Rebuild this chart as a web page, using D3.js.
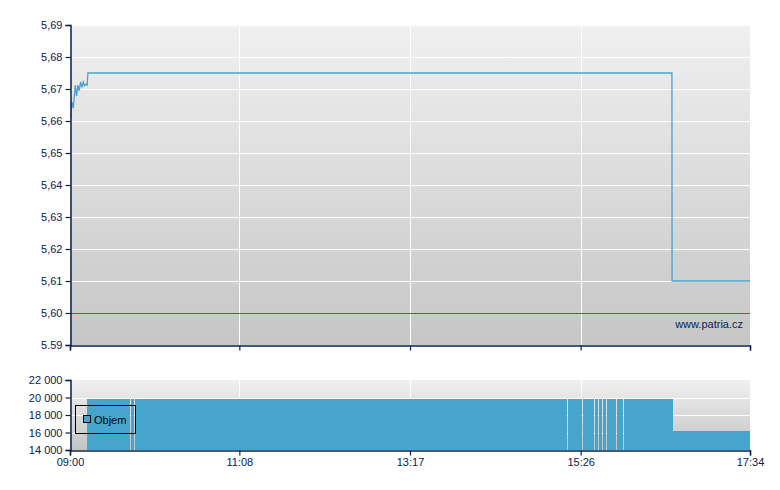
<!DOCTYPE html>
<html><head><meta charset="utf-8">
<script src="https://cdn.jsdelivr.net/npm/d3@7"></script>
<style>body{margin:0;background:#fff}svg{display:block}text{font-family:"Liberation Sans",Arial,sans-serif}</style>
</head><body><svg id="c" width="780" height="490"></svg>
<script>
// ---- data (minutes after 09:00) ----
const priceTimes = [0.5, 1.5, 2.5, 4, 5, 6, 7, 8, 9, 10, 11, 12, 13, 13.5, 455, 455.1, 514];
const priceValues = [5.661, 5.666, 5.664, 5.6712, 5.6678, 5.6712, 5.6695, 5.6722, 5.6705, 5.6722, 5.6710, 5.6716, 5.6712, 5.675, 5.675, 5.61, 5.61];
const volStart = [12.9, 46.2, 49.2, 376.3, 387.7, 396.7, 399.8, 402.8, 405.8, 413.4, 418.6, 455.6];
const volEnd   = [45.5, 48.5, 375.6, 387.0, 396.0, 399.1, 402.1, 405.1, 412.7, 417.9, 455.6, 514];
const volValues = [19800, 19800, 19800, 19800, 19800, 19800, 19800, 19800, 19800, 19800, 19800, 16200];
const priceTicks = [5.69, 5.68, 5.67, 5.66, 5.65, 5.64, 5.63, 5.62, 5.61, 5.60, 5.59];
const priceTickLabels = ["5,69","5,68","5,67","5,66","5,65","5,64","5,63","5,62","5,61","5,60","5.59"];
const volTicks = [22000, 20000, 18000, 16000, 14000];
const volTickLabels = ["22 000","20 000","18 000","16 000","14 000"];
const timeTicks = [0, 128, 257, 386, 514];
const timeTickLabels = ["09:00","11:08","13:17","15:26","17:34"];
const refLine = 5.60;
const legendLabel = "Objem";
const watermark = "www.patria.cz";

const navy = "#0b2152", blue = "#46a5cd";
const svg = d3.select("#c");
const L = 70, R = 750;
const x = d3.scaleLinear().domain([0, 514]).range([L, R]);
const y = d3.scaleLinear().domain([5.59, 5.69]).range([345, 25]);
const yv = d3.scaleLinear().domain([14000, 22000]).range([450, 380]);

const defs = svg.append("defs");
function grad(id, c1, c2){
  const g = defs.append("linearGradient").attr("id", id).attr("x1",0).attr("y1",0).attr("x2",0).attr("y2",1);
  g.append("stop").attr("offset","0%").attr("stop-color",c1);
  g.append("stop").attr("offset","100%").attr("stop-color",c2);
}
grad("gm", "#f0f0f0", "#c6c6c6");
grad("gv", "#f0f0f0", "#c4c4c4");
defs.append("clipPath").attr("id","cm").append("rect").attr("x",L).attr("y",25).attr("width",R-L).attr("height",320);

// backgrounds
svg.append("rect").attr("x",L).attr("y",25).attr("width",R-L).attr("height",320).attr("fill","url(#gm)");
svg.append("rect").attr("x",L).attr("y",380).attr("width",R-L).attr("height",70).attr("fill","url(#gv)");

// grid main
svg.append("g").selectAll("line").data(priceTicks.filter(d => d !== 5.59 && d !== refLine)).join("line")
  .attr("x1",L).attr("x2",R).attr("y1",d=>Math.round(y(d))+0.5).attr("y2",d=>Math.round(y(d))+0.5)
  .attr("stroke","#fff").attr("stroke-width",1);
svg.append("g").selectAll("line").data(timeTicks.slice(1,-1)).join("line")
  .attr("x1",d=>Math.round(x(d))+0.5).attr("x2",d=>Math.round(x(d))+0.5).attr("y1",25).attr("y2",345)
  .attr("stroke","#fff");
// grid volume
svg.append("g").selectAll("line").data(volTicks.slice(1,-1)).join("line")
  .attr("x1",L).attr("x2",R).attr("y1",d=>Math.round(yv(d))+0.5).attr("y2",d=>Math.round(yv(d))+0.5)
  .attr("stroke","#fff");
svg.append("g").selectAll("line").data(timeTicks.slice(1,-1)).join("line")
  .attr("x1",d=>Math.round(x(d))+0.5).attr("x2",d=>Math.round(x(d))+0.5).attr("y1",380).attr("y2",450)
  .attr("stroke","#fff");

// reference line
svg.append("line").attr("x1",L).attr("x2",R).attr("y1",Math.round(y(refLine))+0.5).attr("y2",Math.round(y(refLine))+0.5)
  .attr("stroke","#c0393b").attr("stroke-width",1);

// watermark
svg.append("text").attr("x",743).attr("y",328).attr("text-anchor","end").attr("font-size",11).attr("fill",navy).text(watermark);

// volume bars
const vols = volStart.map((s,i)=>({s, e: volEnd[i], v: volValues[i]}));
svg.append("g").selectAll("rect").data(vols).join("rect")
  .attr("x",d=>x(d.s)).attr("width",d=>x(d.e)-x(d.s))
  .attr("y",d=>yv(d.v)).attr("height",d=>yv(14000)-yv(d.v))
  .attr("fill",blue).attr("shape-rendering","crispEdges");

// price line
const pts = priceTimes.map((t,i)=>[t, priceValues[i]]);
svg.append("path").datum(pts).attr("clip-path","url(#cm)")
  .attr("d", d3.line().x(d=>x(d[0])).y(d=>y(d[1])))
  .attr("fill","none").attr("stroke","#4aa2cc").attr("stroke-width",1.3);

// axes
const fontSize = 11;
const ay = svg.append("g").attr("transform",`translate(${L+0.5},0)`)
  .call(d3.axisLeft(y).tickValues(priceTicks).tickFormat((d,i)=>priceTickLabels[i]).tickSizeOuter(0).tickSize(5).tickPadding(3));
const axv = svg.append("g").attr("transform",`translate(${L+0.5},0)`)
  .call(d3.axisLeft(yv).tickValues(volTicks).tickFormat((d,i)=>volTickLabels[i]).tickSizeOuter(0).tickSize(5).tickPadding(3));
const axm = svg.append("g").attr("transform",`translate(0,${345.5})`)
  .call(d3.axisBottom(x).tickValues(timeTicks).tickFormat("").tickSizeOuter(0).tickSize(5));
const axb = svg.append("g").attr("transform",`translate(0,${450.5})`)
  .call(d3.axisBottom(x).tickValues(timeTicks).tickFormat((d,i)=>timeTickLabels[i]).tickSizeOuter(0).tickSize(5).tickPadding(3));
[ay, axv, axm, axb].forEach(a=>{
  a.selectAll("path.domain").attr("stroke",navy).attr("stroke-width",1.5);
  a.selectAll("line").attr("stroke",navy).attr("stroke-width",1.2);
  a.selectAll("text").attr("fill",navy).attr("font-size",fontSize).attr("font-family","Liberation Sans, Arial, sans-serif");
});

// legend
const lg = svg.append("g");
lg.append("rect").attr("x",75.5).attr("y",405.5).attr("width",60).attr("height",28).attr("fill","none").attr("stroke","#000");
lg.append("rect").attr("x",83.5).attr("y",415.5).attr("width",7).attr("height",7).attr("fill",blue).attr("stroke","#000");
lg.append("text").attr("x",94).attr("y",424).attr("font-size",11).attr("fill","#000").text(legendLabel);
</script></body></html>
